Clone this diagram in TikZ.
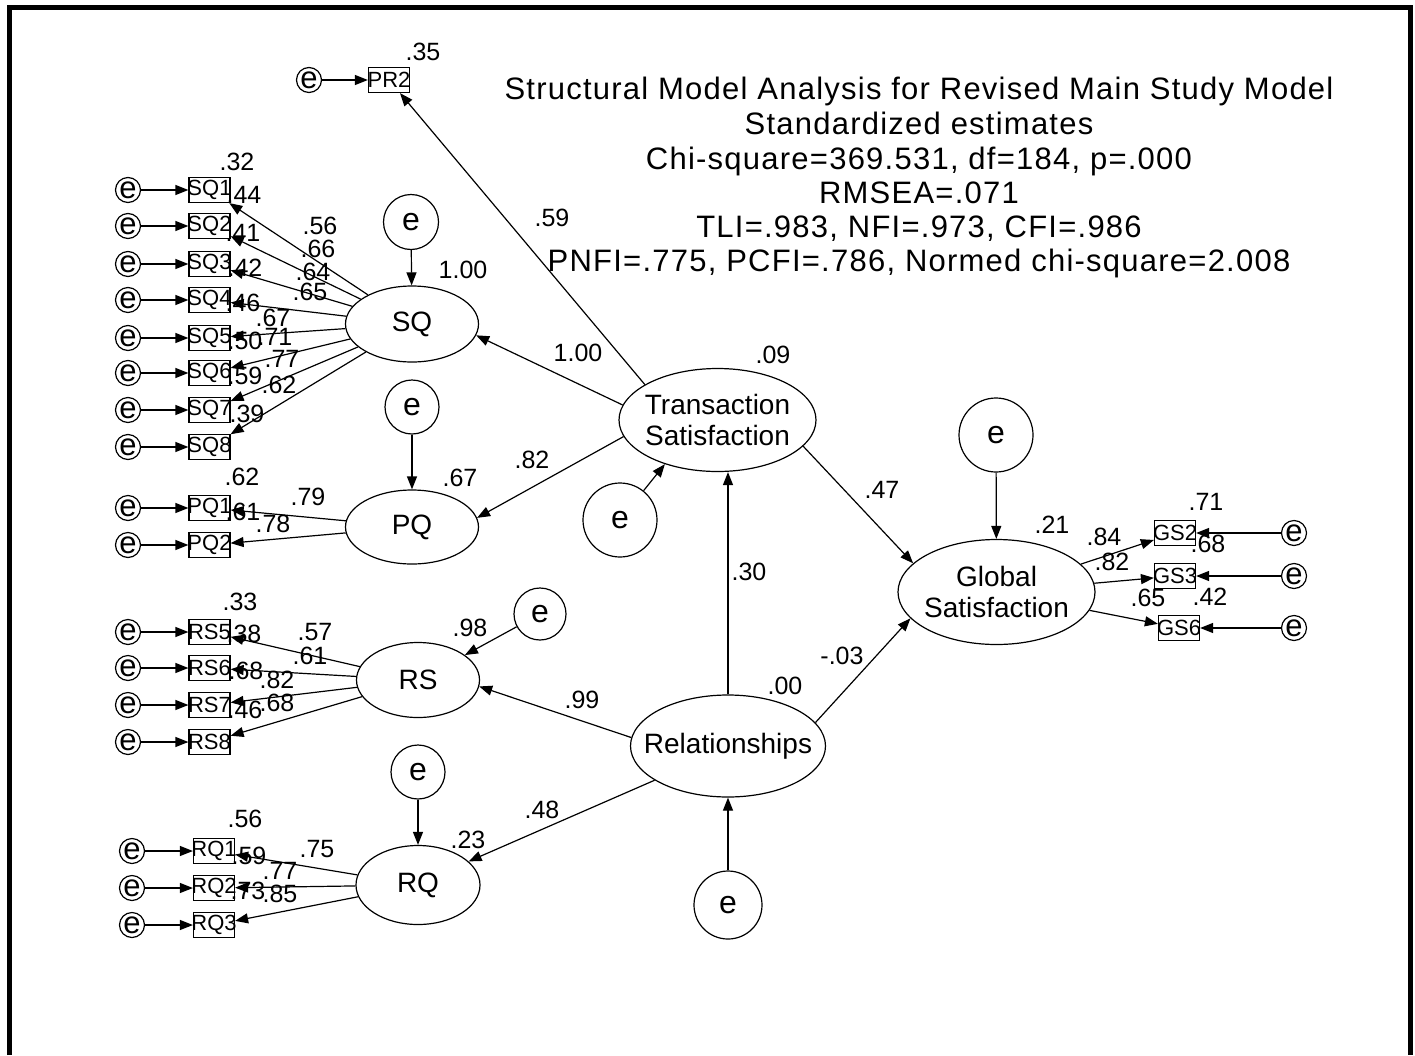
\documentclass[tikz,border=0pt]{standalone}
\usepackage{fontspec}
\setmainfont{Liberation Sans}
\newfontfamily\titlefont{Liberation Sans}[LetterSpace=4]
\usetikzlibrary{arrows.meta,shapes.geometric}
\newcommand\zb[1]{\makebox[0pt]{#1}}
\begin{document}
\begin{tikzpicture}[x=1pt,y=-1pt,
  lat/.style={ellipse, draw, line width=1.2pt, inner sep=0pt, align=center, font=\fontsize{28}{31}\selectfont},
  err/.style={circle, draw, line width=1.2pt, inner sep=0pt, font=\fontsize{32}{32}\selectfont},
  serr/.style={circle, draw, line width=1.2pt, inner sep=0pt, minimum size=25pt, font=\fontsize{31}{31}\selectfont},
  obs/.style={draw, line width=1.2pt, inner sep=0pt, minimum width=41pt, minimum height=25pt, font=\fontsize{22}{22}\selectfont},
  num/.style={inner sep=0pt, font=\fontsize{25}{25}\selectfont},
  ttl/.style={inner sep=0pt, anchor=base, font=\titlefont\fontsize{31}{34}\selectfont},
  arr/.style={line width=1.2pt, -{Triangle[length=13pt,width=10pt]}}]
\useasboundingbox (0,0) rectangle (1415,1055);
\fill[white] (0,0) rectangle (1415,1055);
% frame
\draw[line width=5pt] (9,1055) -- (9,7.5) -- (1410.5,7.5) -- (1410.5,1055);
% title
\node[ttl] (t1) at (919,99) {Structural Model Analysis for Revised Main Study Model};
\node[ttl] (t2) at (919,134) {Standardized estimates};
\node[ttl] (t3) at (919,169) {Chi-square=369.531, df=184, p=.000};
\node[ttl] (t4) at (919,203) {RMSEA=.071};
\node[ttl] (t5) at (919,237) {TLI=.983, NFI=.973, CFI=.986};
\node[ttl] (t6) at (919,271) {PNFI=.775, PCFI=.786, Normed chi-square=2.008};
% latent variables
\node[lat, minimum width=133pt, minimum height=76pt] (SQ) at (412,324) {\zb{SQ}};
\node[lat, minimum width=133pt, minimum height=74pt] (PQ) at (412,527) {\zb{PQ}};
\node[lat, minimum width=123pt, minimum height=75pt] (RS) at (418,680) {\zb{RS}};
\node[lat, minimum width=124pt, minimum height=79pt] (RQ) at (418,885) {\zb{RQ}};
\node[lat, minimum width=197pt, minimum height=103pt] (TS) at (717.5,420) {\zb{Transaction}\\\zb{Satisfaction}};
\node[lat, minimum width=197pt, minimum height=105pt] (GS) at (996.5,592) {\zb{Global}\\\zb{Satisfaction}};
\node[lat, minimum width=195pt, minimum height=102pt] (REL) at (728,746) {\zb{Relationships}};
% disturbances
\node[err, minimum size=55pt] (eSQ) at (411,222) {e};
\node[err, minimum size=54pt] (ePQ) at (412,407) {e};
\node[err, minimum size=52pt] (eRS) at (540,614) {e};
\node[err, minimum size=54pt] (eRQ) at (418,772) {e};
\node[err, minimum size=74pt] (eTS) at (620,520) {e};
\node[err, minimum size=74pt] (eGS) at (996,435) {e};
\node[err, minimum size=68pt] (eREL) at (728,905) {e};
\draw[arr] (eSQ) -- (SQ);
\draw[arr] (ePQ) -- (PQ);
\draw[arr] (eRS) -- (RS.28);
\draw[arr] (eRQ) -- (RQ);
\draw[arr] (eTS) -- (TS.220);
\draw[arr] (eGS) -- (GS);
\draw[arr] (eREL) -- (REL);
% structural paths
\draw[arr] (TS.171) -- (SQ.-10);
\draw[arr] (TS.190) -- (PQ.8);
\draw[arr] (TS.-17) -- (GS.161);
\draw[arr] (REL.north) -- (REL.north |- TS.south);
\draw[arr] (REL.15) -- (GS.197);
\draw[arr] (REL.175) -- (RS.-6);
\draw[arr] (REL.205) -- (RQ.25);
% PR2
\node[serr] (ePR2) at (309,80) {e};
\node[obs] (PR2) at (389,80) {\zb{PR2}};
\draw[arr] (ePR2) -- (PR2);
\draw[arr] (TS.154) -- (PR2);
% SQ indicators
\foreach \i/\y in {1/190,2/226,3/264,4/300,5/338,6/373,7/410,8/447} {
  \node[serr] (eSQ\i) at (128,\y) {e};
  \node[obs] (SQ\i) at (209.5,\y) {\zb{SQ\i}};
  \draw[arr] (eSQ\i) -- (SQ\i);
  \draw[arr] (SQ) -- (SQ\i);
}
% PQ indicators
\foreach \i/\y in {1/508,2/545} {
  \node[serr] (ePQ\i) at (128,\y) {e};
  \node[obs] (PQ\i) at (209.5,\y) {\zb{PQ\i}};
  \draw[arr] (ePQ\i) -- (PQ\i);
  \draw[arr] (PQ) -- (PQ\i);
}
% RS indicators
\foreach \i/\y in {5/632,6/668,7/705,8/742} {
  \node[serr] (eRS\i) at (128,\y) {e};
  \node[obs] (RS\i) at (209.5,\y) {\zb{RS\i}};
  \draw[arr] (eRS\i) -- (RS\i);
  \draw[arr] (RS) -- (RS\i);
}
% RQ indicators
\foreach \i/\y in {1/851,2/888,3/925} {
  \node[serr] (eRQ\i) at (132,\y) {e};
  \node[obs] (RQ\i) at (214,\y) {\zb{RQ\i}};
  \draw[arr] (eRQ\i) -- (RQ\i);
  \draw[arr] (RQ) -- (RQ\i);
}
% GS indicators
\foreach \i/\x/\y in {2/1175/533,3/1175/576,6/1179/628} {
  \node[serr] (eGS\i) at (1294,\y) {e};
  \node[obs] (GS\i) at (\x,\y) {\zb{GS\i}};
  \draw[arr] (eGS\i) -- (GS\i);
  \draw[arr] (GS) -- (GS\i);
}
% numbers
\foreach \t/\x/\y [count=\k] in {
 .32/237/162, .44/244/195, .41/243/233, .42/245/268, .46/243/303, .50/245/341, .59/245/376, .39/247/414,
 .56/320/226, .66/318/249, .64/313/272, .65/310/292, .67/273/318, .71/275/337, .77/282/359, .62/279/385,
 .62/242/477, .79/308/497, .61/243/512, .78/273/524,
 .33/240/602, .38/244/634, .57/315/632, .61/310/656, .68/246/671, .82/277/680, .46/245/710, .68/277/703,
 .56/245/819, .59/249/856, .75/317/849, .77/280/871, .73/248/891, .85/280/894,
 .71/1206/502, .84/1104/537, .82/1112/562, .68/1208/544, .65/1148/598, .42/1210/597,
 .35/423/52, .59/552/218, 1.00/463/270, 1.00/578/353, .09/773/355, .82/532/460, .67/460/478,
 .47/882/490, .21/1052/525, .30/749/572, .98/470/628, .99/582/700, .00/785/686, -.03/842/656,
 .48/542/810, .23/468/840} {
  \node[num] (n\k) at (\x,\y) {\t};
}
\end{tikzpicture}
\end{document}
